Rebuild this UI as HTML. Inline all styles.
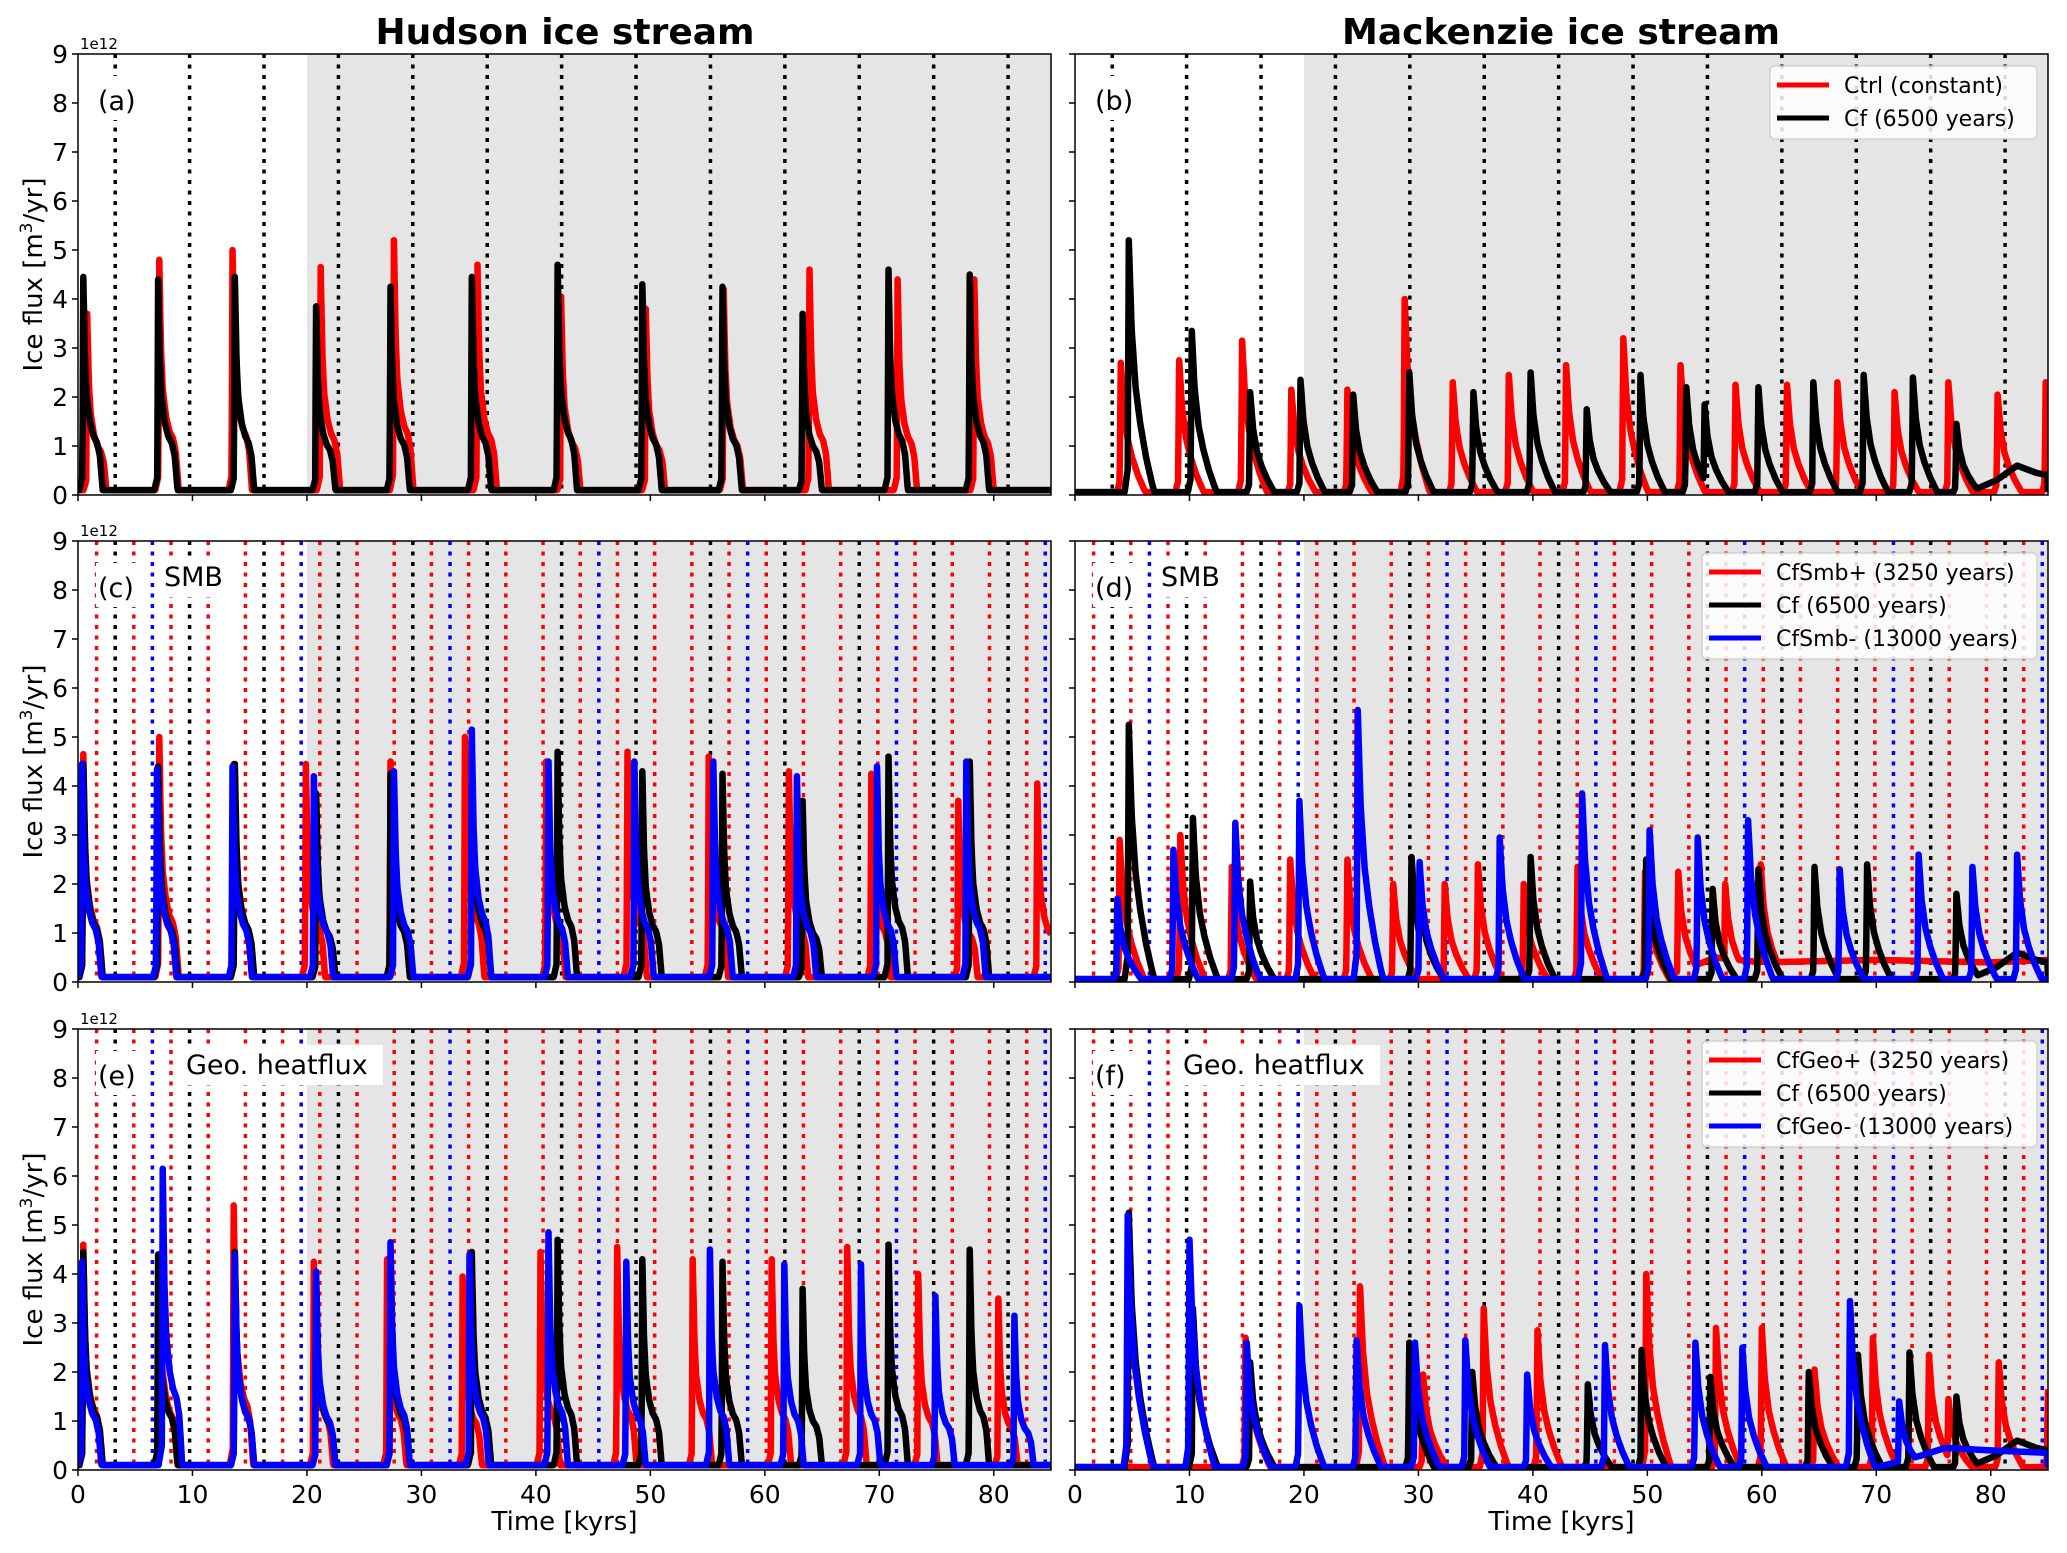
<!DOCTYPE html>
<html><head><meta charset="utf-8"><style>
html,body{margin:0;padding:0;background:#fff}
svg{display:block;font-family:"DejaVu Sans","Liberation Sans",sans-serif}
</style></head><body>
<svg id="fig" width="2067" height="1553" viewBox="0 0 2067 1553" xmlns="http://www.w3.org/2000/svg">
<text x="565" y="44" font-size="36" font-weight="bold" text-anchor="middle">Hudson ice stream</text>
<text x="1561" y="44" font-size="36" font-weight="bold" text-anchor="middle">Mackenzie ice stream</text>
<g id="panels"></g>
</svg>
<script>
// ---- data (kyr, 1e12 m3/yr) ----
const xTicks = [0,10,20,30,40,50,60,70,80];
const yTicks = [0,1,2,3,4,5,6,7,8,9];
// Hudson
const hudCtrlT = [0.8,7.1,13.5,21.2,27.6,34.9,42.2,49.6,56.4,63.9,71.6,78.3];
const hudCtrlV = [3.7,4.8,5.0,4.65,5.2,4.7,4.05,3.8,4.2,4.6,4.4,4.4];
const hudCfT = [0.46,7.0,13.7,20.8,27.3,34.4,41.9,49.3,56.3,63.3,70.8,77.9];
const hudCfV = [4.45,4.4,4.45,3.85,4.25,4.45,4.7,4.3,4.25,3.7,4.6,4.5];
const hudSmbPT = [0.46,7.1,13.6,19.9,27.3,33.8,40.9,48.0,55.1,62.1,69.3,76.9,83.8];
const hudSmbPV = [4.65,5.0,4.45,4.45,4.5,5.0,4.5,4.7,4.6,4.3,4.25,3.7,4.05];
const hudSmbMT = [0.35,6.9,13.5,20.6,27.6,34.4,41.1,48.6,55.5,62.8,69.8,77.6];
const hudSmbMV = [4.45,4.35,4.4,4.2,4.3,5.15,4.5,4.5,4.5,4.2,4.4,4.5];
const hudGeoPT = [0.46,7.1,13.6,20.6,27.0,33.6,40.4,47.1,53.7,60.6,67.2,73.4,80.4];
const hudGeoPV = [4.6,4.4,5.4,4.25,4.3,3.95,4.45,4.55,4.3,4.3,4.55,4.0,3.5];
const hudGeoMT = [0.35,7.4,13.7,20.8,27.3,34.2,41.1,47.9,55.2,61.7,68.4,74.9,81.8];
const hudGeoMV = [4.25,6.15,4.4,4.05,4.65,4.4,4.85,4.25,4.5,4.2,4.2,3.55,3.15];
// Mackenzie
const macCtrlT = [4.0,9.1,14.6,18.9,23.8,28.8,33.0,37.9,42.9,47.9,52.9,57.7,62.2,66.6,71.6,76.3,80.6,84.8];
const macCtrlV = [2.7,2.75,3.15,2.15,2.15,4.0,2.3,2.45,2.65,3.2,2.65,2.25,2.25,2.3,2.1,2.3,2.05,2.3];
const macCfT = [4.7,10.2,15.3,19.7,24.3,29.2,34.8,39.8,44.7,49.4,53.4,55.0,59.7,64.5,68.9,73.2,77.0];
const macCfV = [5.2,3.35,2.1,2.35,2.05,2.5,2.1,2.5,1.75,2.45,2.2,1.85,2.2,2.3,2.45,2.4,1.45];
const macCfTailT = [78.5,80.5,82.3,84.0,85.0];
const macCfTailV = [0.1,0.3,0.6,0.45,0.4];
const macSmbPT = [3.9,9.2,13.7,18.8,23.8,27.8,32.3,35.2,39.2,43.9,49.8,52.7,56.8,59.9];
const macSmbPV = [2.9,3.0,2.35,2.5,2.5,2.0,2.0,2.4,2.0,2.35,2.25,2.25,2.0,2.4];
const macSmbPPlatT = [52,56,60,70,80,85];
const macSmbPPlatV = [0.15,0.5,0.4,0.45,0.4,0.45];
const macSmbMT = [3.7,8.6,14.0,19.6,24.7,30.1,37.1,44.3,50.2,54.4,58.8,66.8,73.7,78.4,82.3];
const macSmbMV = [1.7,2.7,3.25,3.7,5.55,2.45,2.95,3.85,3.1,2.95,3.3,2.3,2.6,2.35,2.6];
const macSmbCfT = [4.7,10.3,15.3,29.4,30.1,39.8,49.9,55.7,59.7,64.6,69.2,77.0];
const macSmbCfV = [5.25,3.35,2.05,2.55,2.0,2.55,2.5,1.9,2.3,2.35,2.4,1.8];
const macGeoPT = [14.9,24.9,30.4,35.7,40.4,49.9,56.0,60.0,64.6,69.7,74.6,76.3,80.7,85.0];
const macGeoPV = [2.7,3.75,1.95,3.3,2.85,4.0,2.9,2.9,2.05,2.7,2.35,1.45,2.2,1.65];
const macGeoCfT = [4.7,10.3,15.3,29.2,34.7,44.8,49.5,55.5,64.1,68.4,72.9,77.0];
const macGeoCfV = [5.25,3.3,2.2,2.6,2.0,1.75,2.45,1.9,2.0,2.35,2.4,1.5];
const macGeoMT = [4.6,10.0,15.0,19.6,24.6,29.7,34.1,39.5,46.3,54.2,58.3,67.7,72.0];
const macGeoMV = [5.2,4.7,2.6,3.35,2.65,2.6,2.65,1.95,2.55,2.6,2.5,3.45,1.4];
const macGeoMPlatT = [70,74,76,80,85];
const macGeoMPlatV = [0.05,0.3,0.45,0.4,0.35];

const RED='#ff0000', BLK='#000000', BLU='#0000ff';
const L0=78, L1=1051, R0=1075, R1=2048;
const rowTop=[54,541,1029], PH=441;
const XMAX=85;

const panels = [
 {id:'a',x0:L0,x1:L1,row:0,type:'h',label:'(a)',extra:'',series:[[hudCtrlT,hudCtrlV,RED,null],[hudCfT,hudCfV,BLK,null]],vl:['k'],legend:null},
 {id:'b',x0:R0,x1:R1,row:0,type:'m',label:'(b)',extra:'',series:[[macCtrlT,macCtrlV,RED,null],[macCfT,macCfV,BLK,[macCfTailT,macCfTailV]]],vl:['k'],legend:[['Ctrl (constant)',RED],['Cf (6500 years)',BLK]]},
 {id:'c',x0:L0,x1:L1,row:1,type:'h',label:'(c)',extra:'SMB',series:[[hudSmbPT,hudSmbPV,RED,null],[hudCfT,hudCfV,BLK,null],[hudSmbMT,hudSmbMV,BLU,null]],vl:['r','k','b'],legend:null},
 {id:'d',x0:R0,x1:R1,row:1,type:'m',label:'(d)',extra:'SMB',series:[[macSmbPT,macSmbPV,RED,[macSmbPPlatT,macSmbPPlatV]],[macSmbCfT,macSmbCfV,BLK,[macCfTailT,macCfTailV]],[macSmbMT,macSmbMV,BLU,null]],vl:['r','k','b'],legend:[['CfSmb+ (3250 years)',RED],['Cf (6500 years)',BLK],['CfSmb- (13000 years)',BLU]]},
 {id:'e',x0:L0,x1:L1,row:2,type:'h',label:'(e)',extra:'Geo. heatflux',series:[[hudGeoPT,hudGeoPV,RED,null],[hudCfT,hudCfV,BLK,null],[hudGeoMT,hudGeoMV,BLU,null]],vl:['r','k','b'],legend:null},
 {id:'f',x0:R0,x1:R1,row:2,type:'m',label:'(f)',extra:'Geo. heatflux',series:[[macGeoPT,macGeoPV,RED,null],[macGeoCfT,macGeoCfV,BLK,[macCfTailT,macCfTailV]],[macGeoMT,macGeoMV,BLU,[macGeoMPlatT,macGeoMPlatV]]],vl:['r','k','b'],legend:[['CfGeo+ (3250 years)',RED],['Cf (6500 years)',BLK],['CfGeo- (13000 years)',BLU]]}
];

const NS='http://www.w3.org/2000/svg';
function mk(tag,attrs,parent){const e=document.createElementNS(NS,tag);for(const k in attrs)e.setAttribute(k,attrs[k]);parent.appendChild(e);return e;}
const shapeH=[[-0.35,0.02],[-0.08,0.08],[0,1],[0.15,0.62],[0.3,0.45],[0.6,0.33],[0.9,0.27],[1.2,0.24],[1.45,0.18],[1.7,0.02]];
const shapeM=[[-0.4,0.0],[-0.1,0.1],[0,1],[0.25,0.65],[0.6,0.42],[1.0,0.28],[1.5,0.15],[2.0,0.05],[2.3,0.0]];
function tmpl(sh,dt){if(dt<=sh[0][0]||dt>=sh[sh.length-1][0])return 0;for(let i=1;i<sh.length;i++){if(dt<=sh[i][0]){const a=sh[i-1],b=sh[i];return a[1]+(b[1]-a[1])*(dt-a[0])/(b[0]-a[0]);}}return 0;}
function interp(T,V,t){if(t<T[0]||t>T[T.length-1])return 0;for(let i=1;i<T.length;i++){if(t<=T[i]){return V[i-1]+(V[i]-V[i-1])*(t-T[i-1])/(T[i]-T[i-1]);}}return 0;}

const root=document.getElementById('panels');
panels.forEach(p=>{
  const y0=rowTop[p.row], y1=y0+PH;
  const X=t=>p.x0+(p.x1-p.x0)*t/XMAX;
  const Y=v=>y1-PH*v/9;
  const g=mk('g',{},root);
  
  
  const cid='clip'+p.id;
  const cp=mk('clipPath',{id:cid},g); mk('rect',{x:p.x0,y:y0,width:p.x1-p.x0,height:PH},cp);
  const bg=mk('rect',{x:X(20),y:y0,width:X(85)-X(20),height:PH,fill:'#e5e5e5'},g);
  
  
  const vg=mk('g',{'clip-path':'url(#'+cid+')'},g);
  const defs={r:[1.625,3.25,RED],k:[3.25,6.5,BLK],b:[6.5,13,BLU]};
  p.vl.forEach(k=>{const [s,st,c]=defs[k];for(let t=s;t<=XMAX+0.01;t+=st){
    const l=mk('line',{x1:X(t),x2:X(t),y1:y0,y2:y1,stroke:c,'stroke-width':3.5,'stroke-dasharray':'4 6.5'},vg);
    
    
  }});
  const lg=mk('g',{},g);
  mk('rect',{x:X(0)+18,y:y0+22,width:44,height:44,fill:'#fff'},lg);
  const lt=mk('text',{x:X(0)+20,y:y0+56,'font-size':27,fill:'#000'},lg); lt.textContent=p.label;
  
  
  if(p.extra){
    const ex=X(0)+(p.extra==='SMB'?86:108);
    const w=p.extra==='SMB'?70:200;
    mk('rect',{x:ex-3,y:y0+16,width:w,height:40,fill:'#fff'},lg);
    const et=mk('text',{x:ex,y:y0+45,'font-size':27,fill:'#000'},lg); et.textContent=p.extra;
    
    
  }
  const sg=mk('g',{'clip-path':'url(#'+cid+')'},g);
  const sh=p.type==='h'?shapeH:shapeM;
  p.series.forEach(s=>{
    const [T,V,c,plat]=s; let d='';
    let ts=[];
    for(let t=0;t<=XMAX+0.001;t+=0.04)ts.push(t);
    T.forEach(t=>ts.push(t));
    ts.sort((a,b)=>a-b);
    ts.forEach(t=>{
      let v=p.type==='h'?0.1:0.06;
      for(let i=0;i<T.length;i++){const f=tmpl(sh,t-T[i]);if(f>0){v=Math.max(v,V[i]*f);}}
      if(Math.abs(t-0)<1e-9){}
      T.forEach((tt,i)=>{if(Math.abs(t-tt)<1e-9)v=Math.max(v,V[i]);});
      if(plat){v=Math.max(v,interp(plat[0],plat[1],t));}
      d+=(d?'L':'M')+X(t).toFixed(1)+' '+Y(v).toFixed(1);
    });
    const path=mk('path',{d:d,fill:'none',stroke:c,'stroke-width':6.5,'stroke-linejoin':'round'},sg);
    
    
  });
  mk('rect',{x:p.x0,y:y0,width:p.x1-p.x0,height:PH,fill:'none',stroke:'#000','stroke-width':1.5},g);
  yTicks.forEach(v=>{
    mk('line',{x1:p.x0-6,x2:p.x0,y1:Y(v),y2:Y(v),stroke:'#000','stroke-width':1.5},g);
    if(p.x0===L0){const t=mk('text',{x:p.x0-10,y:Y(v)+9,'font-size':25,'text-anchor':'end',fill:'#000'},g);t.textContent=v;
      
      }
  });
  xTicks.forEach(v=>{
    mk('line',{x1:X(v),x2:X(v),y1:y1,y2:y1+6,stroke:'#000','stroke-width':1.5},g);
    if(p.row===2){const t=mk('text',{x:X(v),y:y1+33,'font-size':25,'text-anchor':'middle',fill:'#000'},g);t.textContent=v;
      
      }
  });
  if(p.x0===L0){
    const e=mk('text',{x:p.x0+2,y:y0-5,'font-size':15,fill:'#000'},g); e.textContent='1e12';
    
    
    const yl=mk('text',{x:0,y:0,'font-size':26,'text-anchor':'middle',fill:'#000',transform:'translate(42,'+(y0+PH/2)+') rotate(-90)'},g);
    yl.innerHTML='Ice flux [m<tspan font-size="17" dy="-10">3</tspan><tspan dy="10">/yr]</tspan>';
    
    
  }
  if(p.row===2){
    const xl=mk('text',{x:(p.x0+p.x1)/2,y:1530,'font-size':26,'text-anchor':'middle',fill:'#000'},g); xl.textContent='Time [kyrs]';
    
    
  }
  if(p.legend){
    const n=p.legend.length;
    const lgG=mk('g',{},g);
    
    
    const bx=n===2?1770:1702, bw=2037-bx;
    mk('rect',{x:bx,y:y0+12,width:bw,height:n*33+7,rx:5,fill:'#fff','fill-opacity':0.85,stroke:'#ccc','stroke-width':1.2},lgG);
    p.legend.forEach((it,i)=>{
      const yy=y0+31+i*33;
      mk('line',{x1:bx+7,x2:bx+59,y1:yy,y2:yy,stroke:it[1],'stroke-width':5},lgG);
      const t=mk('text',{x:bx+74,y:yy+8,'font-size':22,fill:'#000'},lgG); t.textContent=it[0];
      
      
    });
  }
});
</script>
</body></html>
